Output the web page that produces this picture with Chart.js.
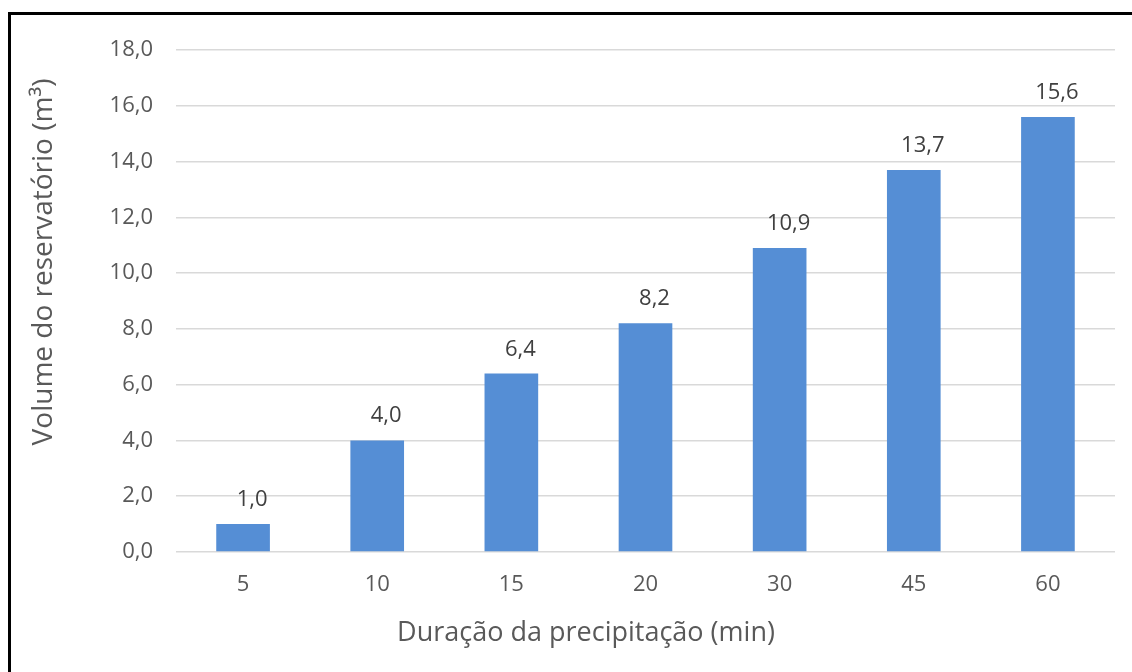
<!DOCTYPE html>
<html lang="pt">
<head>
<meta charset="utf-8">
<title>Volume do reservatório</title>
<script src="https://cdn.jsdelivr.net/npm/chart.js@4/dist/chart.umd.min.js"></script>
<style>
  html, body { margin: 0; padding: 0; background: #ffffff; }
  #wrap { position: relative; width: 1132px; height: 672px; overflow: hidden; }
  #frame {
    position: absolute; left: 8px; top: 12px; width: 1200px; height: 700px;
    border-left: 3px solid #000; border-top: 3px solid #000;
  }
  canvas { position: absolute; left: 0; top: 0; }
</style>
</head>
<body>
<div id="wrap">
  <div id="frame"></div>
  <canvas id="chart" width="1132" height="672"></canvas>
</div>
<script>
// Duração da precipitação (min) and the resulting reservoir volume (m³)
const categories = ['5', '10', '15', '20', '30', '45', '60'];
const volumes = [1.0, 4.0, 6.4, 8.2, 10.9, 13.7, 15.6];

// Y axis range
const yMin = 0;
const yMax = 18;
const yStep = 2;

const xTitle = 'Duração da precipitação (min)';
const yTitle = 'Volume do reservatório (m³)';

const FONT = '"Open Sans", "Segoe UI", sans-serif';
const TEXT = '#595959';
const BAR = '#558ED5';
const GRID = '#d9d9d9';

const fmt = v => Number(v).toFixed(1).replace('.', ',');

// Value labels above each bar
const valueLabels = {
  id: 'valueLabels',
  afterDatasetsDraw(chart) {
    const ctx = chart.ctx;
    const meta = chart.getDatasetMeta(0);
    const data = chart.data.datasets[0].data;
    ctx.save();
    ctx.font = '22px ' + FONT;
    ctx.fillStyle = '#404040';
    ctx.textAlign = 'center';
    ctx.textBaseline = 'alphabetic';
    meta.data.forEach((bar, i) => {
      ctx.fillText(fmt(data[i]), bar.x + 9, bar.y - 18);
    });
    ctx.restore();
  }
};

// Axis titles, placed as in the printed figure
const axisTitles = {
  id: 'axisTitles',
  afterDraw(chart) {
    const ctx = chart.ctx;
    ctx.save();
    ctx.fillStyle = TEXT;
    ctx.textAlign = 'center';
    ctx.textBaseline = 'middle';
    ctx.font = '27px ' + FONT;
    ctx.fillText(xTitle, 586, 633);
    ctx.font = '28px ' + FONT;
    ctx.translate(44, 262);
    ctx.rotate(-Math.PI / 2);
    ctx.fillText(yTitle, 0, 0);
    ctx.restore();
  }
};

new Chart(document.getElementById('chart'), {
  type: 'bar',
  data: {
    labels: categories,
    datasets: [{
      label: 'Volume',
      data: volumes,
      backgroundColor: BAR,
      borderWidth: 0,
      categoryPercentage: 1.0,
      barPercentage: 0.4
    }]
  },
  options: {
    responsive: false,
    animation: false,
    devicePixelRatio: 1,
    layout: { padding: { left: 0, right: 17, top: 50, bottom: 0 } },
    plugins: {
      legend: { display: false },
      tooltip: { enabled: false }
    },
    scales: {
      x: {
        grid: { display: false, drawTicks: false },
        border: { display: false },
        ticks: { color: TEXT, font: { family: FONT, size: 22 }, padding: 20 },
        afterFit(scale) { scale.height = 120; }
      },
      y: {
        min: yMin,
        max: yMax,
        grid: { color: GRID, lineWidth: 1.5, drawTicks: false },
        border: { display: false },
        ticks: {
          stepSize: yStep,
          color: TEXT,
          font: { family: FONT, size: 22 },
          padding: 23,
          callback: v => fmt(v)
        },
        afterFit(scale) { scale.width = 176; }
      }
    }
  },
  plugins: [valueLabels, axisTitles]
});
</script>
</body>
</html>
